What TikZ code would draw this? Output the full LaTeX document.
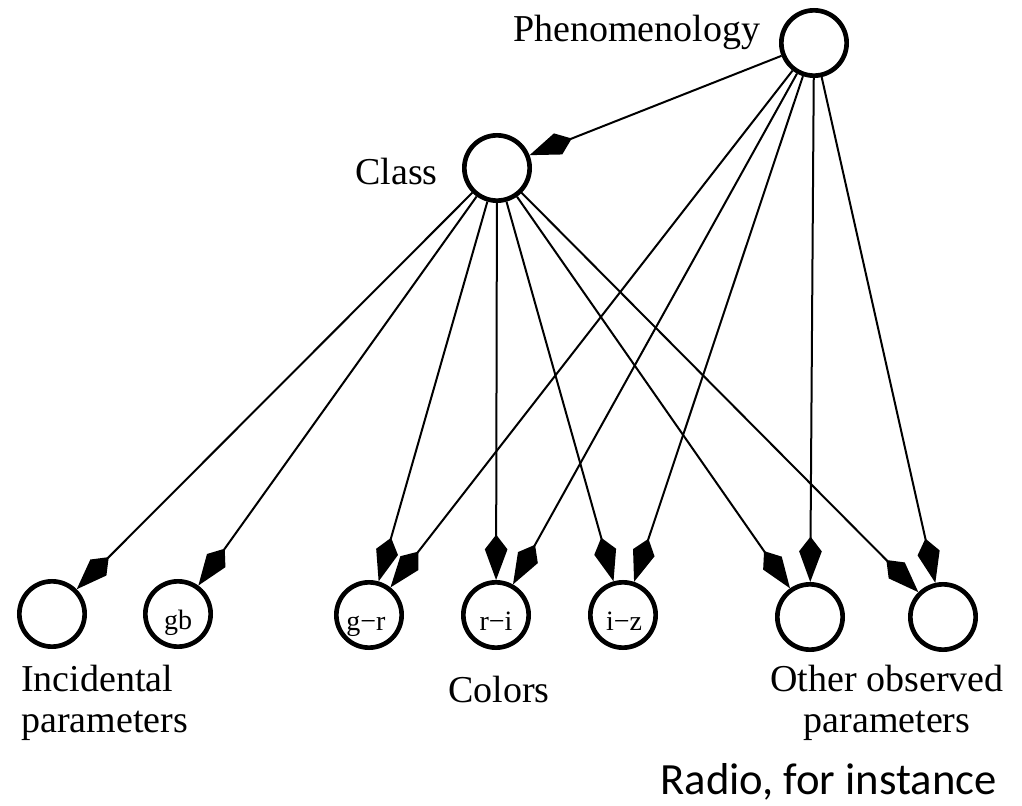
\documentclass[tikz,border=0pt]{standalone}
\usepackage{fontspec}
\setmainfont{Liberation Serif}
\newfontfamily\notefont{Carlito}
\usetikzlibrary{arrows.meta, positioning}
\tikzset{
    var/.style={circle, draw=black, line width=3.5pt, minimum size=49pt, inner sep=0pt},
    lbl/.style={inner sep=0pt, font=\fontsize{28.5}{31}\selectfont},
    inlbl/.style={inner sep=0pt, font=\fontsize{21}{24}\selectfont},
    arr/.style={-{Kite[length=34pt, width=17pt, inset=11pt]}, line width=1.5pt}
}

\begin{document}
\begin{tikzpicture}[x=0.75pt, y=-0.75pt]
        \useasboundingbox (0,0) rectangle (1022,806);
        \node[var] (phen) at (814,43) {};
        \node[var] (class) at (497,168) {};
        \node[var] (inc) at (52,614) {};
        \node[var] (gb) at (178,614) {};
        \node[var] (gr) at (369,615) {};
        \node[var] (ri) at (496,615) {};
        \node[var] (iz) at (623,615) {};
        \node[var] (oth1) at (810,617) {};
        \node[var] (oth2) at (943,617) {};

        \node[inlbl, anchor=base] (gbl) at (178,629) {gb};
        \node[inlbl, anchor=base] (grl) at (366,630) {g\textminus r};
        \node[inlbl, anchor=base] (ril) at (496,630) {r\textminus i};
        \node[inlbl, anchor=base] (izl) at (624,630) {i\textminus z};

        \node[lbl, anchor=base west] (phenl) at (513,42) {Phenomenology};
        \node[lbl, anchor=base west] (classl) at (355,185) {Class};
        \node[lbl, anchor=north west, align=left] (incl) at (21,665) {Incidental\\parameters};
        \node[lbl, anchor=base] (coll) at (499,702) {Colors};
        \node[lbl, anchor=north, align=center] (othl) at (887,665) {Other observed\\parameters};
        \node[inner sep=0pt, anchor=base east, font=\notefont\fontsize{33.5}{38}\selectfont] (note) at (997,794) {Radio, for instance};

        \draw[arr] (phen) -- (class);
        \draw[arr] (phen) -- (gr); \draw[arr] (phen) -- (ri); \draw[arr] (phen) -- (iz);
        \draw[arr] (phen) -- (oth1); \draw[arr] (phen) -- (oth2);
        \draw[arr] (class) -- (inc); \draw[arr] (class) -- (gb); \draw[arr] (class) -- (gr);
        \draw[arr] (class) -- (ri); \draw[arr] (class) -- (iz);
        \draw[arr] (class) -- (oth1); \draw[arr] (class) -- (oth2);
    \end{tikzpicture}
\end{document}
